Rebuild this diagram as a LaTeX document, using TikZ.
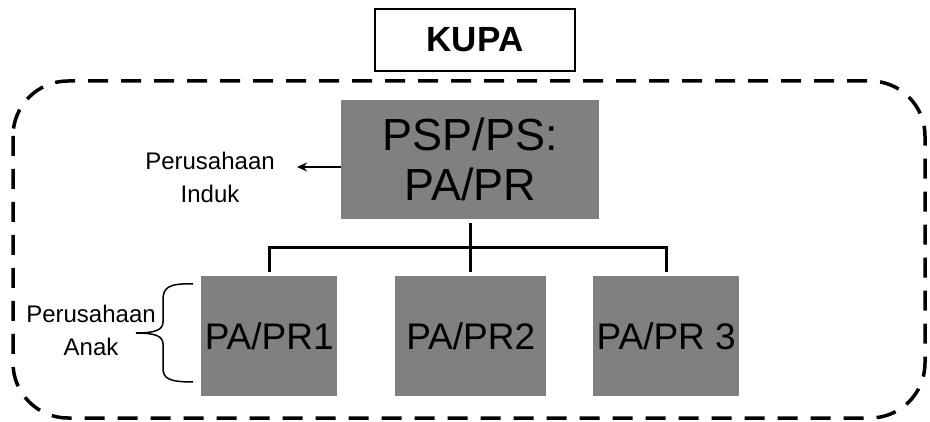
\documentclass[tikz,border=0pt]{standalone}
\usepackage{fontspec}
\setmainfont{Liberation Sans}
\usetikzlibrary{arrows.meta}
\begin{document}
\begin{tikzpicture}[x=1pt,y=-1pt,
  graybox/.style={fill=black!50,draw=none,inner sep=0pt,anchor=north west,align=center},
  conn/.style={line width=3pt},
  small/.style={font=\fontsize{24}{33}\selectfont,align=center,inner sep=0pt}]
\useasboundingbox (0,0) rectangle (930,422);
% dashed frame
\draw[line width=3.5pt,dash pattern=on 20pt off 13pt,rounded corners=55pt] (13,81) rectangle (925,418);
% KUPA
\node[draw,line width=2.7pt,minimum width=200pt,minimum height=62pt,inner sep=0pt,
  font=\fontsize{35}{40}\selectfont\bfseries] (kupa) at (475,40) {KUPA};
% parent
\node[graybox,minimum width=258pt,minimum height=119pt,font=\fontsize{45}{50}\selectfont] (psp) at (341,100) {PSP/PS:\\PA/PR};
% children
\node[graybox,minimum width=136pt,minimum height=120pt,font=\fontsize{37}{40}\selectfont] (c1) at (201,276) {PA/PR1};
\node[graybox,minimum width=151pt,minimum height=120pt,font=\fontsize{37}{40}\selectfont] (c2) at (395,276) {PA/PR2};
\node[graybox,minimum width=146pt,minimum height=120pt,font=\fontsize{37}{40}\selectfont] (c3) at (593,276) {PA/PR 3};
% connectors
\coordinate (bar) at (470,248);
\draw[conn] ([yshift=-4pt]psp.south) -- (psp.south |- bar);
\draw[conn] ([yshift=4pt]c1.north) -- (c1.north |- bar) -- (c3.north |- bar) -- ([yshift=4pt]c3.north);
\draw[conn] ([yshift=4pt]c2.north) -- (c2.north |- bar);
% parent label
\node[small] (induk) at (210,177) {Perusahaan\\Induk};
\coordinate (indukend) at (297,167);
\draw[line width=1.5pt,-{Stealth[length=10pt,width=9pt]}] (psp.west |- indukend) -- (indukend);
% children label
\node[small] (anak) at (91,330) {Perusahaan\\Anak};
\coordinate (braceTip) at (136,333);
\draw[line width=1.5pt] (193,284) .. controls (168,283) and (163,288) .. (163,300) -- (163,322)
  .. controls (163,330) and (155,333) .. (braceTip)
  .. controls (155,333) and (163,336) .. (163,344) -- (163,368)
  .. controls (163,378) and (168,382) .. (193,382);
\end{tikzpicture}
\end{document}
